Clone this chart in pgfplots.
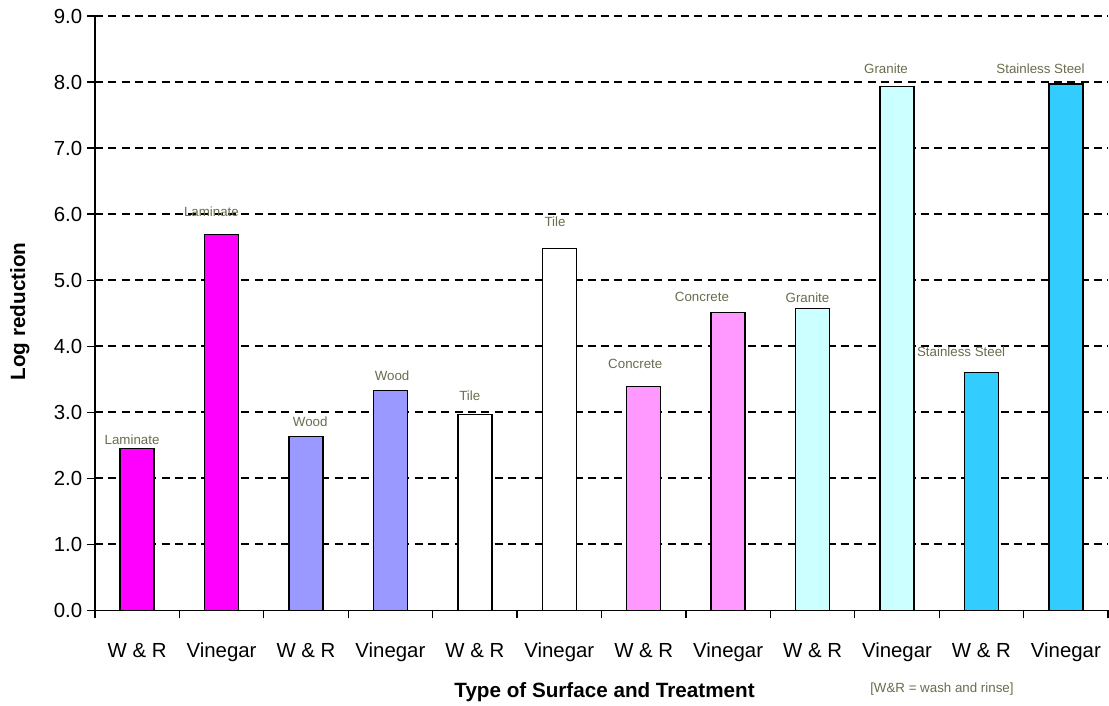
\documentclass[border=0pt]{standalone}
\usepackage{pgfplots}
\pgfplotsset{compat=1.18}
\usepackage{fontspec}
\setmainfont{Liberation Sans}
\definecolor{cMag}{HTML}{FF00FF}
\definecolor{cLav}{HTML}{9999FF}
\definecolor{cPink}{HTML}{FF99FF}
\definecolor{cCyanL}{HTML}{CCFFFF}
\definecolor{cSky}{HTML}{33CCFF}
\definecolor{cOlive}{HTML}{6B6B4E}

% label positions (x in category units, y in data units)
\pgfplotstableread{
x      y     label
-0.06  2.59  Laminate
0.88   6.03  Laminate
2.05   2.86  Wood
3.02   3.56  Wood
3.94   3.25  Tile
4.95   5.88  Tile
5.90   3.74  Concrete
6.69   4.74  Concrete
7.94   4.74  Granite
8.87   8.20  Granite
9.76   3.92  {Stainless Steel}
10.70  8.20  {Stainless Steel}
}\barlabels

\begin{document}
\begin{tikzpicture}
\begin{axis}[
    name=ax,
    scale only axis,
    width=760.5pt, height=446.25pt,
    xmin=-0.5, xmax=11.5,
    ymin=0, ymax=9,
    axis lines*=left,
    axis line style={line width=1.2pt, black},
    clip=false,
    xtick={0,...,11},
    xticklabels={W \& R, Vinegar, W \& R, Vinegar, W \& R, Vinegar, W \& R, Vinegar, W \& R, Vinegar, W \& R, Vinegar},
    minor xtick={-0.5,0.5,...,11.5},
    major x tick style={draw=none},
    minor x tick style={line width=1pt, black},
    minor tick length=6pt,
    ytick={0,1,...,9},
    y tick style={line width=1pt, black},
    major tick length=6pt,
    tick align=outside,
    yticklabel={\pgfmathprintnumber[fixed, fixed zerofill, precision=1]{\tick}},
    /pgf/number format/assume math mode=true,
    ticklabel style={font=\fontsize{15.3}{18}\selectfont},
    xticklabel style={anchor=base, yshift=-29pt},
    ymajorgrids,
    grid style={black, line width=1.4pt, dash pattern=on 6pt off 4pt},
    xlabel={Type of Surface and Treatment},
    ylabel={Log reduction},
    xlabel style={font=\bfseries\fontsize{15.5}{18}\selectfont, at={(axis description cs:0.503,-0.137)}, anchor=center},
    ylabel style={font=\bfseries\fontsize{15.5}{18}\selectfont, at={(axis description cs:-0.074,0.503)}, anchor=center},
  ]
  \addplot[ybar, bar width=25.5pt, fill=cMag, draw=black, line width=1pt] coordinates {(0,2.45) (1,5.69)};
  \addplot[ybar, bar width=25.5pt, fill=cLav, draw=black, line width=1pt] coordinates {(2,2.63) (3,3.33)};
  \addplot[ybar, bar width=25.5pt, fill=white, draw=black, line width=1pt] coordinates {(4,2.97) (5,5.48)};
  \addplot[ybar, bar width=25.5pt, fill=cPink, draw=black, line width=1pt] coordinates {(6,3.39) (7,4.51)};
  \addplot[ybar, bar width=25.5pt, fill=cCyanL, draw=black, line width=1pt] coordinates {(8,4.57) (9,7.93)};
  \addplot[ybar, bar width=25.5pt, fill=cSky, draw=black, line width=1pt] coordinates {(10,3.60) (11,7.97)};
  \addplot[only marks, mark=none, point meta=explicit symbolic,
    nodes near coords,
    nodes near coords style={anchor=center, inner sep=0pt, text=cOlive, font=\fontsize{10}{12}\selectfont}]
    table[x=x, y=y, meta=label] {\barlabels};
  \node[text=cOlive, font=\fontsize{10}{12}\selectfont, anchor=center] at (axis description cs:0.836,-0.133) {[W\&R = wash and rinse]};
\end{axis}
\path[use as bounding box] ([xshift=-71.25pt, yshift=-69.75pt]ax.south west) rectangle ([yshift=12pt]ax.north east);
\end{tikzpicture}
\end{document}
